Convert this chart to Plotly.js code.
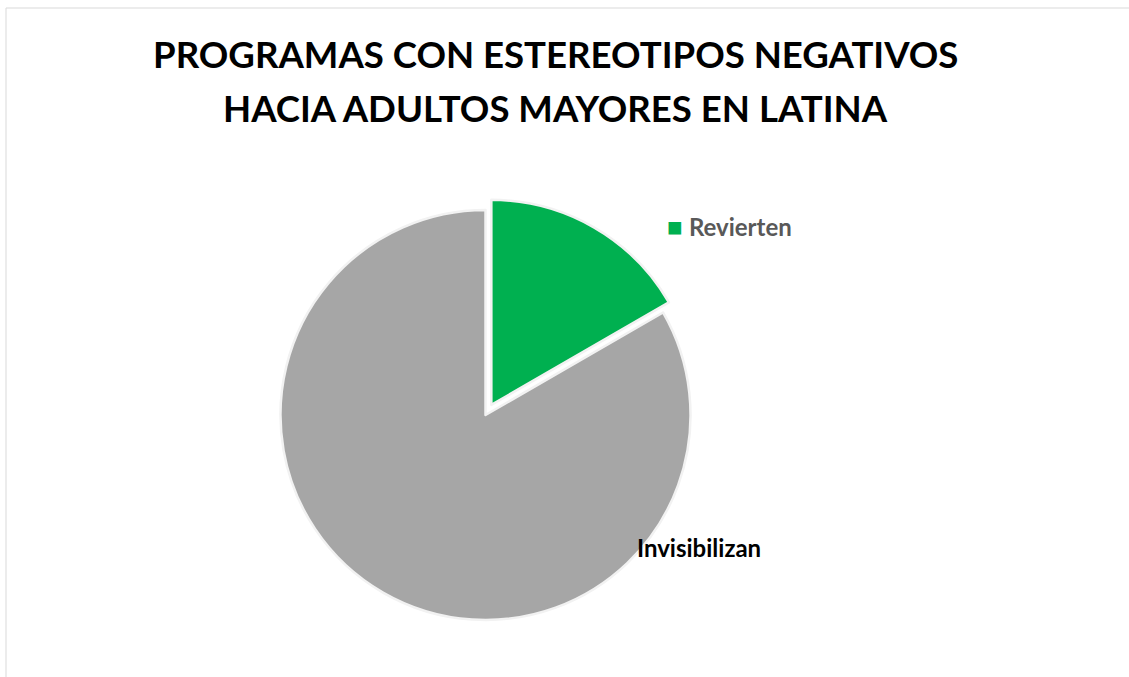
<!DOCTYPE html>
<html>
<head>
<meta charset="utf-8">
<script src="https://cdn.plot.ly/plotly-3.0.1.min.js"></script>
<style>html,body{margin:0;padding:0;background:#fff;}#chart{width:1129px;height:677px;}</style>
</head>
<body>
<div id="chart"></div>
<script>
const categories = ["Revierten", "Invisibilizan"];
const values = [1, 5];
const colors = ["#00B050", "#A6A6A6"];
const titleLines = ["PROGRAMAS CON ESTEREOTIPOS NEGATIVOS", "HACIA ADULTOS MAYORES EN LATINA"];

const W = 1129, H = 677;
const trace = {
  type: "pie",
  labels: categories,
  values: values,
  sort: false,
  direction: "clockwise",
  rotation: 0,
  pull: [0.057, 0],
  marker: {colors: colors, line: {color: "#f2f2f2", width: 2.5}},
  textinfo: "none",
  hoverinfo: "label+value",
  showlegend: false,
  domain: {x: [268.8 / W, 702.2 / W], y: [45.3 / H, 478.7 / H]}
};

const layout = {
  width: W, height: H,
  margin: {l: 0, r: 0, t: 0, b: 0},
  paper_bgcolor: "#ffffff",
  showlegend: false,
  annotations: [
    {text: "<b>" + titleLines[0] + "</b>", x: 555 / W, y: 1 - 54 / H, xref: "paper", yref: "paper",
     xanchor: "center", yanchor: "middle", showarrow: false,
     font: {family: "Lato", size: 36.6, color: "#000000"}},
    {text: "<b>" + titleLines[1] + "</b>", x: 555 / W, y: 1 - 108 / H, xref: "paper", yref: "paper",
     xanchor: "center", yanchor: "middle", showarrow: false,
     font: {family: "Lato", size: 36.6, color: "#000000"}},
    {text: "<span style='color:" + colors[0] + ";font-size:26px'>■</span> <b>" + categories[0] + "</b>", x: 665 / W, y: 1 - 226 / H,
     xref: "paper", yref: "paper", xanchor: "left", yanchor: "middle", showarrow: false,
     font: {family: "Lato", size: 24, color: "#595959"}},
    {text: "<b>" + categories[1] + "</b>", x: 635 / W, y: 1 - 547 / H,
     xref: "paper", yref: "paper", xanchor: "left", yanchor: "middle", showarrow: false,
     font: {family: "Lato", size: 24, color: "#000000"}}
  ],
  shapes: [
    {type: "line", xref: "paper", yref: "paper", x0: 6 / W, x1: 1, y0: 1 - 8 / H, y1: 1 - 8 / H,
     line: {color: "#d9d9d9", width: 1}},
    {type: "line", xref: "paper", yref: "paper", x0: 6 / W, x1: 6 / W, y0: 0, y1: 1 - 8 / H,
     line: {color: "#d9d9d9", width: 1}}
  ]
};

Plotly.newPlot("chart", [trace], layout, {displayModeBar: false, staticPlot: true});
</script>
</body>
</html>
